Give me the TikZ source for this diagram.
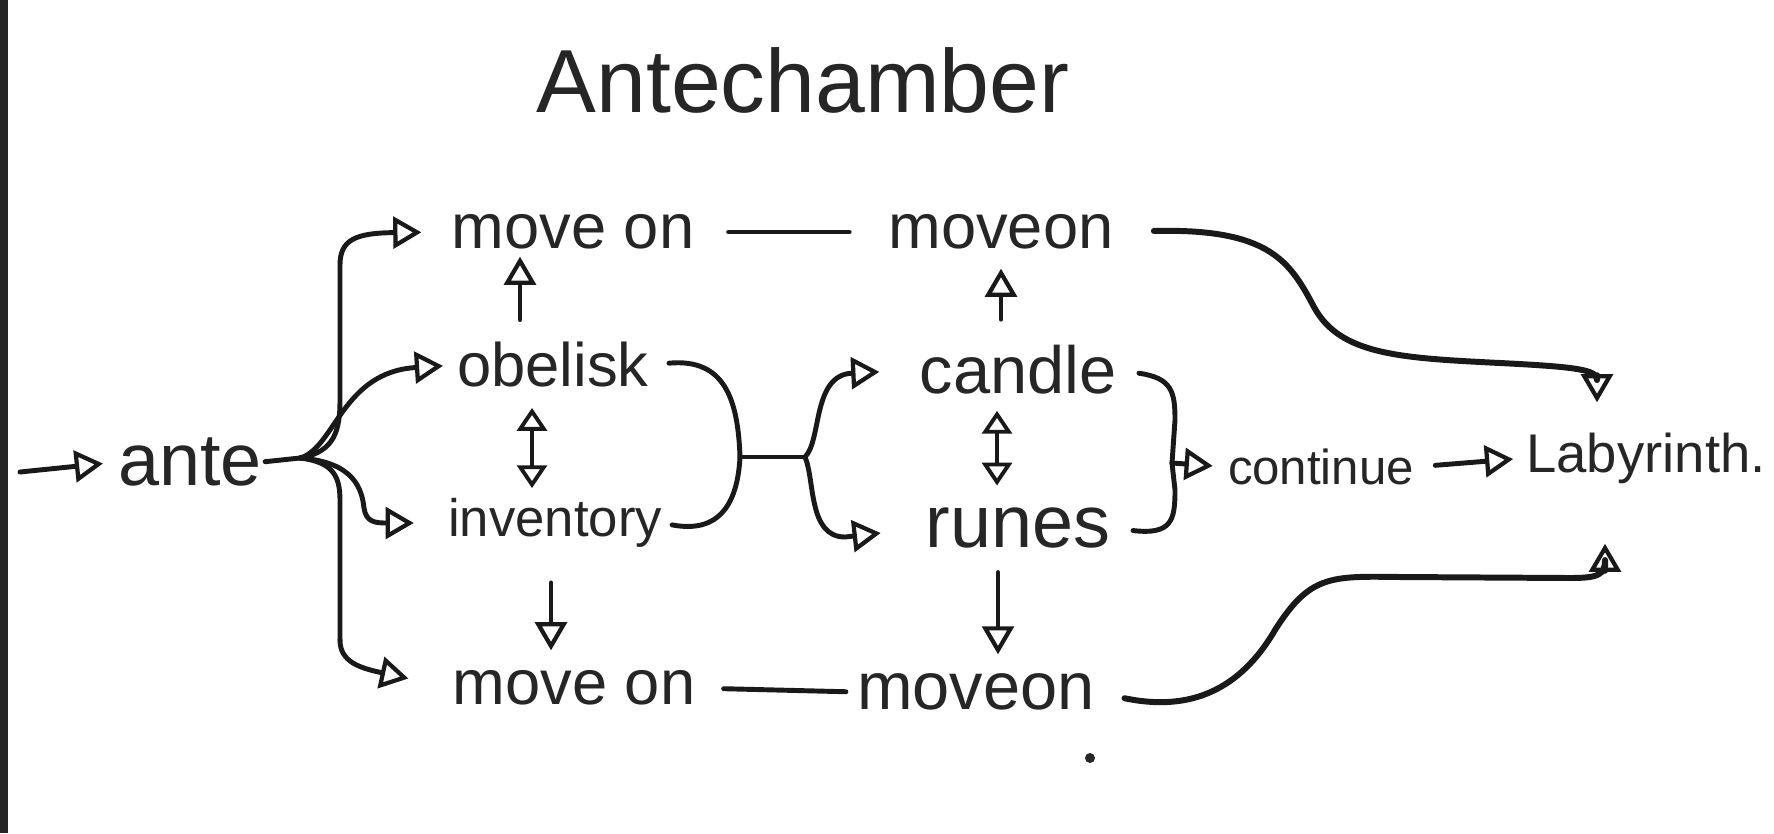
\documentclass[tikz,border=0pt]{standalone}
\usepackage{fontspec}
\setmainfont{Liberation Sans}
\usetikzlibrary{arrows.meta}
\newcommand\myfs[1]{\fontsize{#1}{#1}\selectfont}
\begin{document}
\begin{tikzpicture}[x=0.02cm,y=-0.02cm,
  lbl/.style={inner sep=0pt, text=black!85},
  con/.style={line width=2.8pt, line cap=round, line join=round, black!90},
  arr/.style={con, -{Triangle[open,length=16pt,width=18pt,line width=2.4pt]}},
  darr/.style={con, {Triangle[open,length=13pt,width=17pt,line width=2.2pt]}-{Triangle[open,length=13pt,width=17pt,line width=2.2pt]}},
]
\useasboundingbox (0,0) rectangle (1774,833);
\fill[white] (0,0) rectangle (1774,833);
\fill[black!85] (0,0) rectangle (8,833);

% labels
\node[lbl,font=\myfs{51}] (title) at (803,80) {Antechamber};
\node[lbl,font=\myfs{42}] (ante) at (190,462) {ante};
\node[lbl,font=\myfs{36}] (mTL) at (573,232) {move on};
\node[lbl,font=\myfs{36}] (mTR) at (1001,232) {moveon};
\node[lbl,font=\myfs{35}] (obelisk) at (553,365) {obelisk};
\node[lbl,font=\myfs{30}] (inv) at (555,523) {inventory};
\node[lbl,font=\myfs{36}] (mBL) at (574,688) {move on};
\node[lbl,font=\myfs{38}] (mBR) at (976,692) {moveon};
\node[lbl,font=\myfs{38}] (candle) at (1018,370) {candle};
\node[lbl,font=\myfs{42}] (runes) at (1018,528) {runes};
\node[lbl,font=\myfs{28}] (cont) at (1321,467) {continue};
\node[lbl,font=\myfs{31}] (lab) at (1646,458) {Labyrinth.};

% helper coordinates
\coordinate (in) at (20,472);
\coordinate (j1) at (300,458);
\coordinate (j2) at (740,457);
\coordinate (j3) at (805,457);
\coordinate (j4) at (1172,463);
\coordinate (xa) at (520,0);
\coordinate (xb) at (532,0);
\coordinate (xc) at (551,0);
\coordinate (xd) at (1001,0);
\coordinate (xe) at (997,0);
\coordinate (xf) at (998,0);
\coordinate (tx) at (1597,0);
\coordinate (bx) at (1605,0);

% entry
\draw[arr, shorten >=0.3cm] (in) -- (ante.west);

% left brace
\draw[con, shorten <=0.06cm] (ante.east) -- (j1);
\draw[arr, shorten >=0.6cm] (j1) .. controls (335,452) and (340,430) .. (340,400) -- (340,265)
   .. controls (340,240) and (355,233) .. (mTL.west);
\draw[arr, shorten >=0.28cm] (j1) .. controls (335,448) and (342,372) .. (obelisk.west);
\draw[arr, shorten >=0.68cm] (j1) .. controls (355,462) and (362,490) .. (364,508)
   .. controls (366,522) and (375,523) .. (inv.west);
\draw[con] (j1) .. controls (332,462) and (340,475) .. (340,500) -- (340,640);
\draw[arr, shorten >=0.9cm] (340,640) .. controls (340,662) and (360,668) .. (mBL.west);

% merge obelisk / inventory
\draw[con, shorten <=0.4cm] (obelisk.east) .. controls (725,358) and (738,400) .. (j2);
\draw[con, shorten <=0.2cm] (inv.east) .. controls (725,535) and (738,495) .. (j2);
\draw[con] (j2) -- (j3);
\draw[arr, shorten >=0.8cm] (j3) .. controls (822,440) and (812,375) .. (candle.west);
\draw[arr, shorten >=0.9cm] (j3) .. controls (815,480) and (808,537) .. (845,537) -- (runes.west);

% right brace
\draw[con, shorten <=0.45cm] (candle.east) .. controls (1172,378) and (1175,392) .. (1175,420) -- (j4);
\draw[con, shorten <=0.45cm] (runes.east) .. controls (1172,535) and (1175,520) .. (1175,490) -- (j4);
\draw[arr, shorten >=0.3cm] (j4) -- (cont.west);
\draw[arr, shorten <=0.42cm, shorten >=0.26cm] (cont.east) -- (lab.west);

% horizontal move-on links
\draw[con, shorten <=0.68cm, shorten >=0.78cm] (mTL.east) -- (mTR.west);
\draw[con, shorten <=0.56cm, shorten >=0.22cm] (mBL.east) -- (mBR.west);

% vertical arrows
\draw[arr, shorten <=0.45cm, shorten >=0.14cm] (obelisk.north -| xa) -- (mTL.south -| xa);
\draw[darr, shorten <=0.4cm, shorten >=0.2cm] (obelisk.south -| xb) -- (inv.north -| xb);
\draw[arr, shorten <=0.7cm, shorten >=0.4cm] (inv.south -| xc) -- (mBL.north -| xc);
\draw[arr, shorten <=0.52cm, shorten >=0.38cm] (candle.north -| xd) -- (mTR.south -| xd);
\draw[darr, shorten <=0.32cm, shorten >=0.44cm] (candle.south -| xe) -- (runes.north -| xe);
\draw[arr, shorten <=0.48cm, shorten >=0.38cm] (runes.south -| xf) -- (mBR.north -| xf);

% long curves to the labyrinth
\draw[arr, line width=3.4pt, shorten <=0.8cm, shorten >=0.6cm] (mTR.east) .. controls (1270,228) and (1290,262) .. (1314,307)
   .. controls (1340,355) and (1400,358) .. (1500,363)
   .. controls (1580,367) and (1597,370) .. (1597,380) -- (lab.north -| tx);
\draw[arr, line width=3.4pt, shorten <=0.6cm, shorten >=1.2cm] (mBR.east) .. controls (1190,712) and (1240,690) .. (1275,630)
   .. controls (1310,575) and (1330,576) .. (1400,577) -- (1570,578)
   .. controls (1598,578) and (1605,575) .. (1605,560) -- (lab.south -| bx);

% stray dot
\fill[black!85] (1090,758) circle (5);
\end{tikzpicture}
\end{document}
